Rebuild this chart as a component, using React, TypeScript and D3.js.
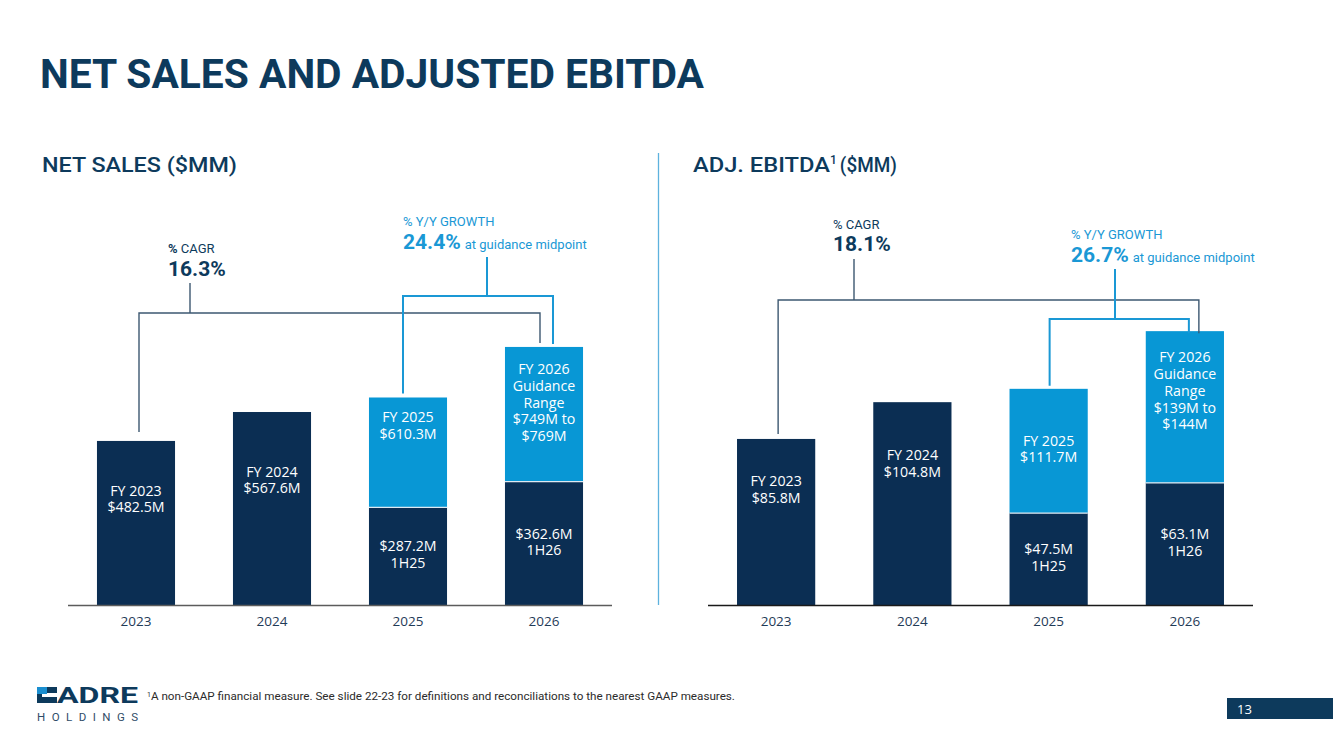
import React, { useEffect } from 'react'
import * as d3 from 'd3'

// ---- data ----
const years = ['2023', '2024', '2025', '2026']

const salesTotal = [482.5, 567.6, 610.3, 759] // 2026 = guidance midpoint
const salesFirstHalf = [null, null, 287.2, 362.6]
const salesTotalLabels = [
  ['FY 2023', '$482.5M'],
  ['FY 2024', '$567.6M'],
  ['FY 2025', '$610.3M'],
  ['FY 2026', 'Guidance', 'Range', '$749M to', '$769M'],
]
const salesHalfLabels = [null, null, ['$287.2M', '1H25'], ['$362.6M', '1H26']]

const ebitdaTotal = [85.8, 104.8, 111.7, 141.5] // 2026 = guidance midpoint
const ebitdaFirstHalf = [null, null, 47.5, 63.1]
const ebitdaTotalLabels = [
  ['FY 2023', '$85.8M'],
  ['FY 2024', '$104.8M'],
  ['FY 2025', '$111.7M'],
  ['FY 2026', 'Guidance', 'Range', '$139M to', '$144M'],
]
const ebitdaHalfLabels = [null, null, ['$47.5M', '1H25'], ['$63.1M', '1H26']]

const salesCagr = '16.3%'
const salesGrowth = '24.4%'
const ebitdaCagr = '18.1%'
const ebitdaGrowth = '26.7%'

const NAVY = '#0b2e53'
const BLUE = '#0897d5'
const TITLE = '#0d3a5c'
const ACCENT = '#1a98d5'
const COND = 'Roboto, "Liberation Sans", sans-serif'
const BODY = '"Open Sans", "Noto Sans", sans-serif'

interface Bracket {
  from: number
  to: number
  y: number
  fromDx: number
  toDx: number
  tickX: number
  tickTop: number
  gapFrom: number
  gapTo: number
  color: string
  width: number
}

interface Note {
  x: number
  y1: number
  y2: number
  head: string
  value: string
  tail?: string
  color: string
  valueColor: string
  boldPct?: boolean
}

interface PanelProps {
  totals: number[]
  halves: (number | null)[]
  totalLabels: string[][]
  halfLabels: (string[] | null)[]
  xRange: [number, number]
  yMax: number
  yPixels: number
  axisColor: string
  fullFrac: number
  lightFrac: number[]
  brackets: Bracket[]
  notes: Note[]
}

const BASE = 605
const LINE = 16.7

function LabelBlock({ x, cy, lines }: { x: number; cy: number; lines: string[] }) {
  const top = cy - ((lines.length - 1) * LINE) / 2
  return (
    <g>
      {lines.map((t, k) => (
        <text
          key={k}
          x={x}
          y={top + k * LINE}
          textAnchor="middle"
          dominantBaseline="central"
          fill="#ffffff"
          fontFamily={BODY}
          fontSize={14.2}
        >
          {t}
        </text>
      ))}
    </g>
  )
}

function BarPanel(p: PanelProps) {
  const x = d3.scaleBand<string>().domain(years).range(p.xRange).paddingInner(0.426).paddingOuter(0.213)
  const y = d3.scaleLinear().domain([0, p.yMax]).range([BASE, BASE - p.yPixels])
  const bw = x.bandwidth()
  const cx = (i: number) => (x(years[i]) as number) + bw / 2

  return (
    <g>
      {years.map((yr, i) => {
        const x0 = x(yr) as number
        const total = p.totals[i]
        const half = p.halves[i]
        const top = y(total)
        if (half == null) {
          const h = y(0) - top
          return (
            <g key={yr}>
              <rect x={x0} y={top} width={bw} height={h} fill={NAVY} />
              <LabelBlock x={cx(i)} cy={top + h * p.fullFrac} lines={p.totalLabels[i]} />
            </g>
          )
        }
        const split = y(half)
        return (
          <g key={yr}>
            <rect x={x0} y={split} width={bw} height={y(0) - split} fill={NAVY} />
            <rect x={x0} y={top} width={bw} height={split - top} fill={BLUE} />
            <line x1={x0} x2={x0 + bw} y1={split} y2={split} stroke="#dfe9f2" strokeWidth={1.2} />
            <LabelBlock x={cx(i)} cy={top + (split - top) * p.lightFrac[i]} lines={p.totalLabels[i]} />
            <LabelBlock x={cx(i)} cy={(split + y(0)) / 2 - 2} lines={p.halfLabels[i] as string[]} />
          </g>
        )
      })}

      <line x1={p.xRange[0]} x2={p.xRange[1]} y1={BASE + 0.5} y2={BASE + 0.5} stroke={p.axisColor} strokeWidth={1.6} />
      {years.map((yr, i) => (
        <text
          key={yr}
          x={cx(i)}
          y={621}
          textAnchor="middle"
          dominantBaseline="central"
          fill="#1f3b57"
          fontFamily={BODY}
          fontSize={13.5}
        >
          {yr}
        </text>
      ))}

      {p.brackets.map((b, k) => {
        const xa = cx(b.from) + b.fromDx
        const xb = cx(b.to) + b.toDx
        const ya = y(p.totals[b.from]) - b.gapFrom
        const yb = y(p.totals[b.to]) - b.gapTo
        const path = `M${xa},${ya}V${b.y}H${xb}V${yb}M${b.tickX},${b.y}V${b.tickTop}`
        return <path key={k} d={path} fill="none" stroke={b.color} strokeWidth={b.width} />
      })}

      {p.notes.map((n, k) => (
        <g key={k}>
          <text x={n.x} y={n.y1} fill={n.color} fontFamily={COND} fontSize={13}>
            {n.boldPct ? (
              <>
                <tspan fontWeight={700}>%</tspan>
                <tspan>{n.head.replace('%', '')}</tspan>
              </>
            ) : (
              n.head
            )}
          </text>
          <text x={n.x} y={n.y2} fill={n.valueColor} fontFamily={COND} fontSize={21} fontWeight={700}>
            {n.value}
            {n.tail && (
              <tspan fontSize={13} fontWeight={400} dx={4}>
                {n.tail}
              </tspan>
            )}
          </text>
        </g>
      ))}
    </g>
  )
}

export default function App() {
  useEffect(() => {
    document.body.style.margin = '0'
  }, [])

  return (
    <svg width={1333} height={749} viewBox="0 0 1333 749" style={{ display: 'block', background: '#fff' }}>
      <text
        x={40}
        y={88}
        fill={TITLE}
        fontFamily={COND}
        fontWeight={700}
        fontSize={41}
        textLength={664}
        lengthAdjust="spacingAndGlyphs"
      >
        NET SALES AND ADJUSTED EBITDA
      </text>

      <text x={42} y={172} fill={TITLE} fontFamily={COND} fontWeight={500} fontSize={21} textLength={195} lengthAdjust="spacingAndGlyphs">
        NET SALES ($MM)
      </text>
      <text x={693} y={172} fill={TITLE} fontFamily={COND} fontWeight={500} fontSize={21}>
        <tspan textLength={137} lengthAdjust="spacingAndGlyphs">ADJ. EBITDA</tspan>
        <tspan fontSize={12} dy={-8}>1</tspan>
        <tspan dy={8} dx={3} textLength={57} lengthAdjust="spacingAndGlyphs">($MM)</tspan>
      </text>

      <line x1={658.5} x2={658.5} y1={153} y2={605} stroke="#5eb2de" strokeWidth={1.3} />

      <BarPanel
        totals={salesTotal}
        halves={salesFirstHalf}
        totalLabels={salesTotalLabels}
        halfLabels={salesHalfLabels}
        xRange={[68, 612]}
        yMax={900}
        yPixels={306}
        axisColor="#5c5c5c"
        fullFrac={0.35}
        lightFrac={[0, 0, 0.25, 0.41]}
        brackets={[
          { from: 0, to: 3, y: 313, fromDx: 3, toDx: -4, tickX: 190, tickTop: 283, gapFrom: 9, gapTo: 4, color: '#3d5871', width: 1.4 },
          { from: 2, to: 3, y: 296, fromDx: -5, toDx: 9, tickX: 487, tickTop: 257, gapFrom: 4, gapTo: 3, color: ACCENT, width: 2 },
        ]}
        notes={[
          { x: 168, y1: 253, y2: 276, head: '% CAGR', value: salesCagr, color: TITLE, valueColor: TITLE, boldPct: true },
          { x: 403, y1: 226, y2: 249, head: '% Y/Y GROWTH', value: salesGrowth, tail: 'at guidance midpoint', color: ACCENT, valueColor: ACCENT },
        ]}
      />

      <BarPanel
        totals={ebitdaTotal}
        halves={ebitdaFirstHalf}
        totalLabels={ebitdaTotalLabels}
        halfLabels={ebitdaHalfLabels}
        xRange={[708, 1253]}
        yMax={150}
        yPixels={290.3}
        axisColor="#1a1a1a"
        fullFrac={0.3}
        lightFrac={[0, 0, 0.48, 0.39]}
        brackets={[
          { from: 0, to: 3, y: 300, fromDx: 2, toDx: 14, tickX: 854, tickTop: 259, gapFrom: 5, gapTo: -2, color: '#3d5871', width: 1.4 },
          { from: 2, to: 3, y: 319, fromDx: 1, toDx: 4, tickX: 1115, tickTop: 269, gapFrom: 3, gapTo: -2, color: ACCENT, width: 2 },
        ]}
        notes={[
          { x: 833, y1: 229, y2: 251, head: '% CAGR', value: ebitdaCagr, color: TITLE, valueColor: TITLE },
          { x: 1071, y1: 239, y2: 262, head: '% Y/Y GROWTH', value: ebitdaGrowth, tail: 'at guidance midpoint', color: ACCENT, valueColor: ACCENT },
        ]}
      />

      {/* footer logo */}
      <g>
        <rect x={37} y={687} width={10} height={7} fill="#1b8fd0" />
        <rect x={47} y={687} width={10} height={6} fill={TITLE} />
        <rect x={37} y={697} width={20} height={6} fill={TITLE} />
        <rect x={37} y={694} width={5} height={3} fill={TITLE} />
        <text x={57} y={703} fill={TITLE} fontFamily={COND} fontWeight={700} fontSize={22} textLength={81} lengthAdjust="spacingAndGlyphs">
          ADRE
        </text>
        <text x={37} y={721} fill="#2f4c68" fontFamily={COND} fontSize={11.5} textLength={101} lengthAdjust="spacing">
          HOLDINGS
        </text>
      </g>

      <text x={147} y={700} fill="#2b2b2b" fontFamily={COND} fontSize={10.5}>
        <tspan fontSize={7} dy={-3}>1</tspan>
        <tspan dy={3} textLength={584} lengthAdjust="spacingAndGlyphs">
          A non-GAAP financial measure. See slide 22-23 for definitions and reconciliations to the nearest GAAP measures.
        </tspan>
      </text>

      <rect x={1227} y={698} width={106} height={21} fill={TITLE} />
      <text x={1237} y={713.5} fill="#ffffff" fontFamily={BODY} fontSize={13}>
        13
      </text>
    </svg>
  )
}
